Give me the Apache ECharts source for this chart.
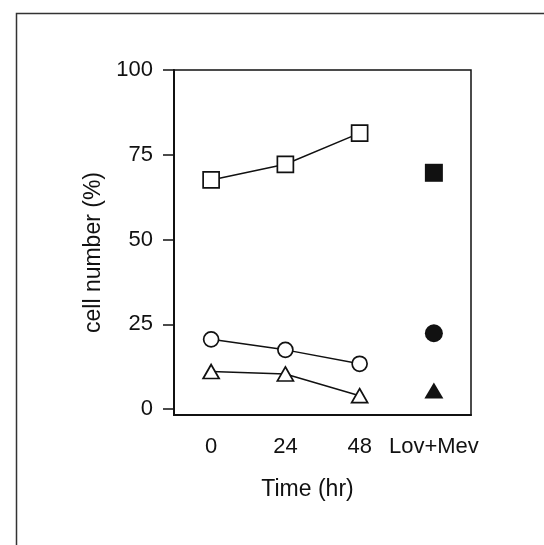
<!DOCTYPE html>
<html>
<head>
<meta charset="utf-8">
<script src="https://cdn.jsdelivr.net/npm/echarts@6/dist/echarts.min.js"></script>
<style>
html,body{margin:0;padding:0;background:#fff;}
#chart{width:544px;height:545px;}
</style>
</head>
<body>
<div id="chart"></div>
<script>
const categories = ['0', '24', '48', 'Lov+Mev'];
const yTicks = [0, 25, 50, 75, 100];
const squareOpen = [67.6, 72.2, 81.4];
const circleOpen = [20.6, 17.5, 13.4];
const triangleOpen = [11.1, 10.4, 4.0];
const squareFilled = [69.7];
const circleFilled = [22.4];
const triangleFilled = [5.5];
const xName = 'Time (hr)';
const yName = 'cell number (%)';

const font = "'Liberation Sans', Arial, Helvetica, sans-serif";
const ink = '#111';

const chart = echarts.init(document.getElementById('chart'), null, {renderer: 'canvas'});

function openLine(data, symbol, size) {
  return {
    type: 'line',
    data: data,
    symbol: symbol,
    symbolSize: size,
    showAllSymbol: true,
    lineStyle: {color: ink, width: 1.5},
    itemStyle: {color: '#fff', borderColor: ink, borderWidth: 1.7, opacity: 1},
    z: 3,
    animation: false
  };
}
function filledPoint(data, symbol, size) {
  return {
    type: 'scatter',
    data: data.map(v => [categories[3], v]),
    symbol: symbol,
    symbolSize: size,
    itemStyle: {color: ink, opacity: 1},
    animation: false
  };
}

chart.setOption({
  animation: false,
  backgroundColor: '#fff',
  graphic: [{
    type: 'rect',
    left: 14, top: 11,
    shape: {width: 700, height: 700},
    style: {fill: 'none', stroke: '#333', lineWidth: 1.5},
    silent: true
  }],
  grid: {
    left: 174, right: 73, top: 70, bottom: 130,
    show: true, borderColor: ink, borderWidth: 1.5, backgroundColor: 'transparent'
  },
  xAxis: {
    type: 'category',
    data: categories,
    boundaryGap: true,
    name: xName,
    nameLocation: 'middle',
    nameGap: 63,
    nameTextStyle: {fontFamily: font, fontSize: 23, color: ink, padding: [0, 30, 0, 0]},
    axisLine: {onZero: false, lineStyle: {color: ink, width: 2}},
    axisTick: {alignWithLabel: true, length: 11, lineStyle: {color: ink, width: 1.5}},
    axisLabel: {fontFamily: font, fontSize: 22, color: ink, margin: 21, interval: 0},
    splitLine: {show: false}
  },
  yAxis: {
    type: 'value',
    min: -1.7,
    max: 100,
    name: yName,
    nameLocation: 'middle',
    nameGap: 68,
    nameRotate: 90,
    nameTextStyle: {fontFamily: font, fontSize: 23, color: ink, padding: [0, 20, 0, 0]},
    axisLine: {show: true, onZero: false, lineStyle: {color: ink, width: 2}},
    axisTick: {show: true, length: 11, customValues: yTicks, lineStyle: {color: ink, width: 1.5}},
    axisLabel: {fontFamily: font, fontSize: 22, color: ink, margin: 21, customValues: yTicks},
    splitLine: {show: false}
  },
  series: [
    openLine(squareOpen, 'rect', 16),
    openLine(circleOpen, 'circle', 15),
    openLine(triangleOpen, 'triangle', [16, 14]),
    filledPoint(squareFilled, 'rect', 18),
    filledPoint(circleFilled, 'circle', 18),
    filledPoint(triangleFilled, 'triangle', [19, 16])
  ]
});
</script>
</body>
</html>
